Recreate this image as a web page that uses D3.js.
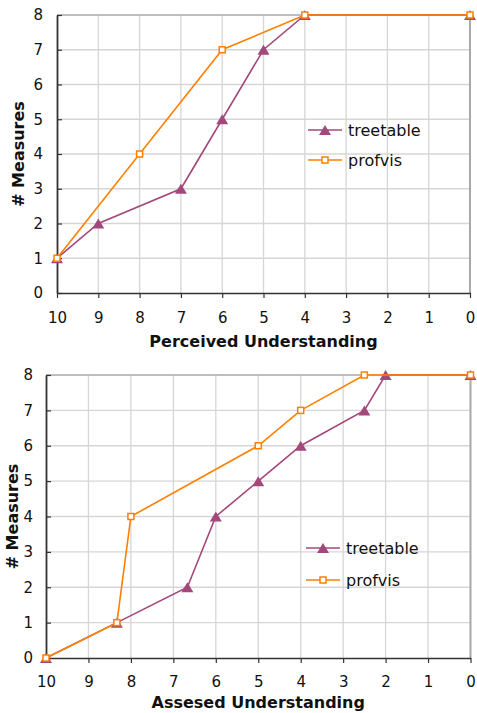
<!DOCTYPE html>
<html>
<head>
<meta charset="utf-8">
<script src="https://cdn.jsdelivr.net/npm/d3@7/dist/d3.min.js"></script>
<style>
  html, body { margin: 0; padding: 0; background: #ffffff; }
  svg { display: block; font-family: "DejaVu Sans", Verdana, sans-serif; }
</style>
</head>
<body>
<svg id="chart" width="477" height="713"></svg>
<script>
// Understanding levels on the x axis, counted down from 10 to 0
const xTicks = [10, 9, 8, 7, 6, 5, 4, 3, 2, 1, 0];
const yTicks = [0, 1, 2, 3, 4, 5, 6, 7, 8];
const seriesNames = ["treetable", "profvis"];

// Perceived understanding
const perceivedTreetableX = [10, 9, 7, 6, 5, 4, 0];
const perceivedTreetableY = [1, 2, 3, 5, 7, 8, 8];
const perceivedProfvisX = [10, 8, 6, 4, 0];
const perceivedProfvisY = [1, 4, 7, 8, 8];

// Assessed understanding
const assessedTreetableX = [10, 8.33, 6.67, 6, 5, 4, 2.5, 2, 0];
const assessedTreetableY = [0, 1, 2, 4, 5, 6, 7, 8, 8];
const assessedProfvisX = [10, 8.33, 8, 5, 4, 2.5, 0];
const assessedProfvisY = [0, 1, 4, 6, 7, 8, 8];

const colors = { treetable: "#a3487b", profvis: "#ff8000" };

const svg = d3.select("#chart");

function zip(xs, ys) { return xs.map((x, i) => [x, ys[i]]); }

function trianglePath(cx, cy) {
  const w = 12, h = 10;
  return `M${cx},${cy - h / 2}L${cx + w / 2},${cy + h / 2}L${cx - w / 2},${cy + h / 2}Z`;
}

function drawMarker(g, name, cx, cy) {
  if (name === "treetable") {
    g.append("path").attr("d", trianglePath(cx, cy)).attr("fill", colors.treetable);
  } else {
    g.append("rect")
      .attr("x", cx - 3).attr("y", cy - 3).attr("width", 6).attr("height", 6)
      .attr("fill", "#ffffff").attr("stroke", colors.profvis).attr("stroke-width", 1.5);
  }
}

function drawPanel(cfg) {
  const x = d3.scaleLinear().domain([10, 0]).range([cfg.left, cfg.right]);
  const y = d3.scaleLinear().domain([0, 8]).range([cfg.bottom, cfg.top]);
  const g = svg.append("g");

  // grid
  g.append("g").selectAll("line").data(xTicks.slice(1, -1)).join("line")
    .attr("x1", d => x(d)).attr("x2", d => x(d))
    .attr("y1", cfg.top).attr("y2", cfg.bottom)
    .attr("stroke", "#d6d6d6").attr("stroke-width", 1.3);
  g.append("g").selectAll("line").data(yTicks.slice(1, -1)).join("line")
    .attr("x1", cfg.left).attr("x2", cfg.right)
    .attr("y1", d => y(d)).attr("y2", d => y(d))
    .attr("stroke", "#d6d6d6").attr("stroke-width", 1.3);

  // top and right frame
  g.append("line").attr("x1", cfg.left).attr("x2", cfg.right)
    .attr("y1", cfg.top).attr("y2", cfg.top)
    .attr("stroke", "#a8a8a8").attr("stroke-width", 1.5);
  g.append("line").attr("x1", cfg.right).attr("x2", cfg.right)
    .attr("y1", cfg.top).attr("y2", cfg.bottom)
    .attr("stroke", "#a8a8a8").attr("stroke-width", 2);

  // axes
  const xAxis = d3.axisBottom(x).tickValues(xTicks).tickSizeInner(5).tickSizeOuter(0)
    .tickPadding(cfg.xPad);
  const gx = g.append("g").attr("transform", `translate(0,${cfg.bottom})`).call(xAxis);
  gx.select(".domain").attr("stroke", "#333").attr("stroke-width", 1.5);
  gx.selectAll(".tick line").attr("stroke", "#333").attr("stroke-width", 1.2);
  gx.selectAll(".tick text").attr("font-size", 15).attr("fill", "#111")
    .attr("font-family", "DejaVu Sans, Verdana, sans-serif");

  const yAxis = d3.axisLeft(y).tickValues(yTicks).tickSizeInner(-5).tickSizeOuter(0)
    .tickPadding(cfg.left - cfg.yLabelRight);
  const gy = g.append("g").attr("transform", `translate(${cfg.left},0)`).call(yAxis);
  gy.select(".domain").attr("stroke", "#333").attr("stroke-width", 1.8);
  gy.selectAll(".tick line").attr("stroke", "#333").attr("stroke-width", 1.2);
  gy.selectAll(".tick text").attr("font-size", 15).attr("fill", "#111")
    .attr("font-family", "DejaVu Sans, Verdana, sans-serif");

  // axis titles
  g.append("text")
    .attr("x", (cfg.left + cfg.right) / 2).attr("y", cfg.xTitleY)
    .attr("text-anchor", "middle").attr("font-size", 16).attr("font-weight", "bold")
    .attr("fill", "#111").text(cfg.xTitle);
  g.append("text")
    .attr("transform", `translate(${cfg.yTitleX},${(cfg.top + cfg.bottom) / 2}) rotate(-90)`)
    .attr("text-anchor", "middle").attr("font-size", 16).attr("font-weight", "bold")
    .attr("fill", "#111").text("# Measures");

  // series
  const line = d3.line().x(d => x(d[0])).y(d => y(d[1]));
  cfg.series.forEach(s => {
    const pts = zip(s.xs, s.ys);
    g.append("path").datum(pts).attr("d", line)
      .attr("fill", "none").attr("stroke", colors[s.name]).attr("stroke-width", 1.6);
    const mg = g.append("g");
    pts.forEach(p => drawMarker(mg, s.name, x(p[0]), y(p[1])));
  });

  // legend
  seriesNames.forEach((name, i) => {
    const ly = cfg.legendY + i * cfg.legendGap;
    const lg = g.append("g");
    lg.append("line").attr("x1", cfg.legendX).attr("x2", cfg.legendX + 34)
      .attr("y1", ly).attr("y2", ly)
      .attr("stroke", colors[name]).attr("stroke-width", 1.6);
    drawMarker(lg, name, cfg.legendX + 17, ly);
    lg.append("text").attr("x", cfg.legendX + 40).attr("y", ly)
      .attr("dy", "0.35em").attr("font-size", 16).attr("fill", "#111").text(name);
  });
}

drawPanel({
  left: 57, right: 470, top: 15, bottom: 293,
  yLabelRight: 43, xPad: 14.5, xTitleY: 347, yTitleX: 24,
  xTitle: "Perceived Understanding",
  legendX: 308, legendY: 130, legendGap: 30,
  series: [
    { name: "treetable", xs: perceivedTreetableX, ys: perceivedTreetableY },
    { name: "profvis", xs: perceivedProfvisX, ys: perceivedProfvisY }
  ]
});

drawPanel({
  left: 46, right: 470.5, top: 375, bottom: 658,
  yLabelRight: 33, xPad: 13.5, xTitleY: 708, yTitleX: 18,
  xTitle: "Assesed Understanding",
  legendX: 306, legendY: 548, legendGap: 32,
  series: [
    { name: "treetable", xs: assessedTreetableX, ys: assessedTreetableY },
    { name: "profvis", xs: assessedProfvisX, ys: assessedProfvisY }
  ]
});
</script>
</body>
</html>
